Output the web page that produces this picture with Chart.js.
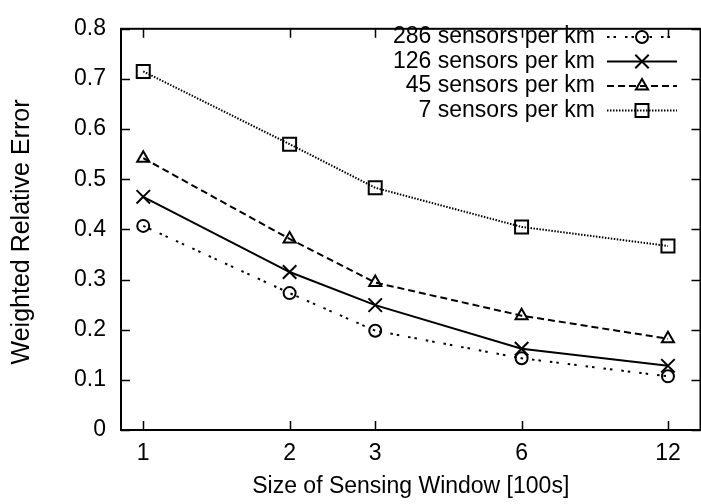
<!DOCTYPE html>
<html>
<head>
<meta charset="utf-8">
<script src="https://cdn.jsdelivr.net/npm/chart.js@4.4.1/dist/chart.umd.min.js"></script>
<style>
  html, body { margin: 0; padding: 0; background: #fff; overflow: hidden; }
  #wrap { width: 712px; height: 504px; }
</style>
</head>
<body>
<div id="wrap"><canvas id="errChart"></canvas></div>
<script>
// Sensing window sizes (x axis, log scale) and error per sensor density
const windowSizes = [1, 2, 3, 6, 12];
const yTicks = [0, 0.1, 0.2, 0.3, 0.4, 0.5, 0.6, 0.7, 0.8];
const seriesLabels = ["286 sensors per km", "126 sensors per km", "45 sensors per km", "7 sensors per km"];
const err286 = [0.407, 0.273, 0.198, 0.143, 0.107];
const err126 = [0.465, 0.315, 0.249, 0.162, 0.128];
const err45 = [0.542, 0.381, 0.294, 0.228, 0.182];
const err7 = [0.715, 0.570, 0.483, 0.405, 0.367];

const FONT = "'Liberation Sans', Arial, Helvetica, sans-serif";
Chart.defaults.font.family = FONT;
Chart.defaults.color = "#000";

const toPoints = vals => vals.map((v, i) => ({ x: windowSizes[i], y: v }));

const datasets = [
  { label: seriesLabels[0], data: toPoints(err286), borderDash: [2.5, 4, 2.5, 9], pointStyle: "circle", pointRadius: 6 },
  { label: seriesLabels[1], data: toPoints(err126), borderDash: [], pointStyle: "crossRot", pointRadius: 9.5 },
  { label: seriesLabels[2], data: toPoints(err45), borderDash: [7, 4], pointStyle: "triangle", pointRadius: 7 },
  { label: seriesLabels[3], data: toPoints(err7), borderDash: [1.5, 1.5], pointStyle: "rect", pointRadius: 9.2 }
].map(d => Object.assign({
  borderColor: "#000",
  borderWidth: 2,
  pointBorderColor: "#000",
  pointBackgroundColor: "rgba(0,0,0,0)",
  pointBorderWidth: 2,
  pointHoverRadius: d.pointRadius,
  tension: 0,
  fill: false
}, d));

// gnuplot-like frame with inward ticks on all four sides, plus the y title
const framePlugin = {
  id: "frame",
  afterDraw(chart) {
    const { ctx, chartArea: a, scales } = chart;
    const len = 9;
    ctx.save();
    ctx.strokeStyle = "#000";
    ctx.lineWidth = 1.5;
    ctx.beginPath();
    scales.y.ticks.forEach(t => {
      const y = Math.round(scales.y.getPixelForValue(t.value)) + 0.5;
      ctx.moveTo(a.left, y); ctx.lineTo(a.left + len, y);
      ctx.moveTo(a.right, y); ctx.lineTo(a.right - len, y);
    });
    scales.x.ticks.forEach(t => {
      const x = Math.round(scales.x.getPixelForValue(t.value)) + 0.5;
      ctx.moveTo(x, a.bottom); ctx.lineTo(x, a.bottom - len);
      ctx.moveTo(x, a.top); ctx.lineTo(x, a.top + len);
    });
    ctx.stroke();
    ctx.lineWidth = 2;
    ctx.strokeRect(a.left, a.top, a.right - a.left, a.bottom - a.top);

    ctx.translate(22, 232);
    ctx.rotate(-Math.PI / 2);
    ctx.font = "25px " + FONT;
    ctx.fillStyle = "#000";
    ctx.textAlign = "center";
    ctx.textBaseline = "middle";
    ctx.fillText("Weighted Relative Error", 0, 0);
    ctx.restore();
  }
};

// key in the upper right: right-aligned text, line sample with marker
const keyPlugin = {
  id: "key",
  afterDraw(chart) {
    const { ctx } = chart;
    ctx.save();
    ctx.font = "23px " + FONT;
    ctx.textAlign = "right";
    ctx.textBaseline = "middle";
    chart.data.datasets.forEach((ds, i) => {
      const y = 37 + i * 24.5;
      ctx.fillStyle = "#000";
      ctx.fillText(ds.label, 595, y);
      ctx.strokeStyle = "#000";
      ctx.lineWidth = ds.borderWidth;
      ctx.setLineDash(ds.borderDash);
      ctx.beginPath();
      ctx.moveTo(607, y); ctx.lineTo(677, y);
      ctx.stroke();
      ctx.setLineDash([]);
      ctx.lineWidth = ds.pointBorderWidth;
      ctx.fillStyle = "rgba(0,0,0,0)";
      Chart.helpers.drawPoint(ctx, {
        pointStyle: ds.pointStyle, radius: ds.pointRadius, borderWidth: ds.pointBorderWidth, rotation: 0
      }, 642, y);
    });
    ctx.restore();
  }
};

new Chart(document.getElementById("errChart"), {
  type: "line",
  data: { datasets },
  options: {
    responsive: true,
    maintainAspectRatio: false,
    animation: false,
    clip: false,
    layout: { padding: { top: 17, right: 5, bottom: 0, left: 0 } },
    plugins: { legend: { display: false }, tooltip: { enabled: false } },
    scales: {
      x: {
        type: "logarithmic",
        min: 0.9,
        max: 14,
        afterBuildTicks: s => { s.ticks = windowSizes.map(v => ({ value: v })); },
        afterFit: s => { s.height = 74; },
        grid: { display: false, drawTicks: false },
        border: { display: false },
        ticks: { padding: 10, font: { size: 23 }, callback: v => String(v), maxRotation: 0, autoSkip: false },
        title: { display: true, text: "Size of Sensing Window [100s]", font: { size: 23 }, padding: { top: 0, bottom: 4 } }
      },
      y: {
        min: 0,
        max: 0.8,
        afterBuildTicks: s => { s.ticks = yTicks.map(v => ({ value: v })); },
        afterFit: s => { s.width = 121; },
        grid: { display: false, drawTicks: false },
        border: { display: false },
        ticks: { padding: 15, font: { size: 23 }, callback: v => String(Math.round(v * 10) / 10) }
      }
    }
  },
  plugins: [framePlugin, keyPlugin]
});
</script>
</body>
</html>
